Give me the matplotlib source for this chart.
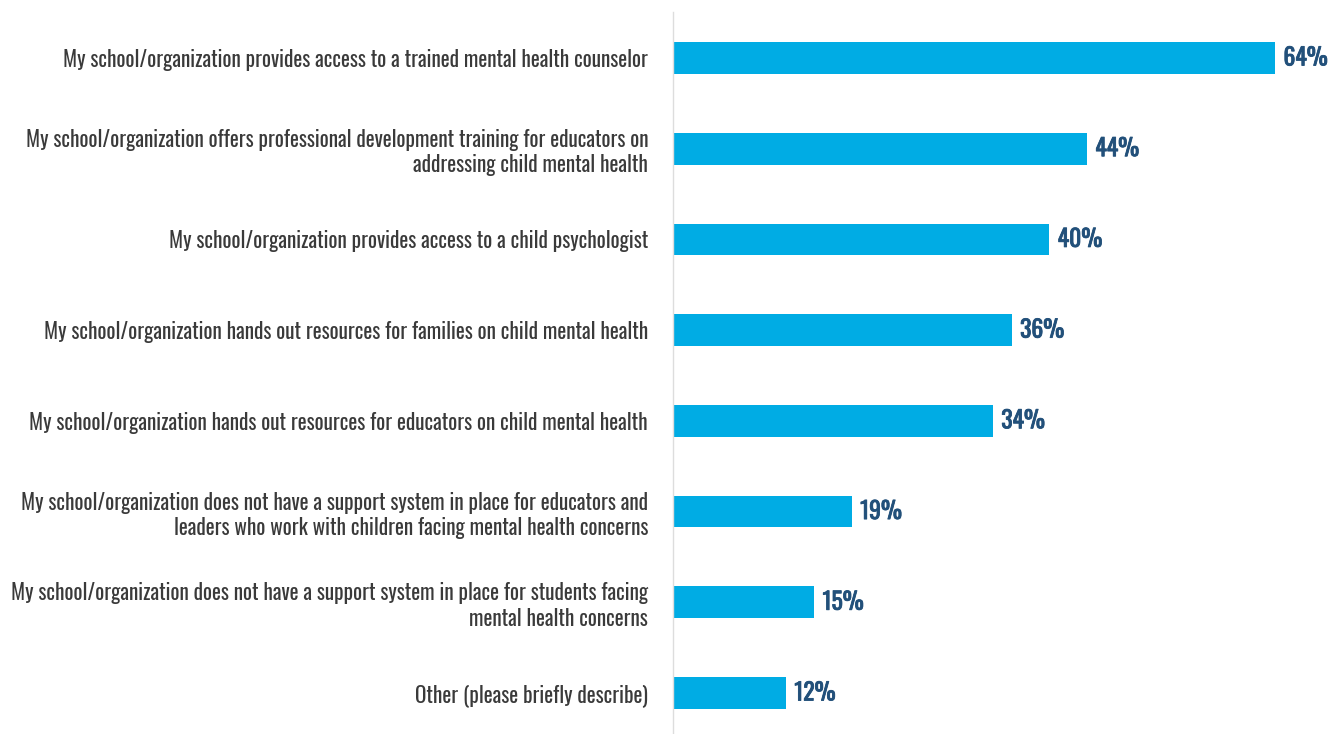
import matplotlib.pyplot as plt
import matplotlib.patheffects as pe
from matplotlib import font_manager

labels = [
    "My school/organization provides access to a trained mental health counselor",
    "My school/organization offers professional development training for educators on\naddressing child mental health",
    "My school/organization provides access to a child psychologist",
    "My school/organization hands out resources for families on child mental health",
    "My school/organization hands out resources for educators on child mental health",
    "My school/organization does not have a support system in place for educators and\nleaders who work with children facing mental health concerns",
    "My school/organization does not have a support system in place for students facing\nmental health concerns",
    "Other (please briefly describe)",
]
values = [64, 44, 40, 36, 34, 19, 15, 12]

names = set(f.name for f in font_manager.fontManager.ttflist)
fam = 'DejaVu Sans'
for cand in ['Oswald', 'Pathway Gothic One', 'Roboto Condensed', 'Archivo Narrow']:
    if cand in names:
        fam = cand
        break
plt.rcParams['font.family'] = [fam, 'DejaVu Sans']

fig = plt.figure(figsize=(13.32, 7.34), dpi=100)
ax = fig.add_axes([673 / 1332, 0, 1 - 673 / 1332, 1 - 12 / 734])

y = list(range(len(values)))
ax.barh(y, values, height=0.35, color='#00ACE4')
for i, v in enumerate(values):
    ax.text(v + 0.9, i, f"{v}%", va='center', ha='left', fontsize=17,
            fontweight='bold', color='#22507A',
            path_effects=[pe.withStroke(linewidth=0.6, foreground='#22507A')])

ax.set_xlim(0, 70.06)
ax.set_ylim(7.452, -0.507)
ax.set_yticks(y)
ax.set_yticklabels(labels, fontsize=15.3, color='#3a3a3a', linespacing=1.2,
                   fontweight='light')
ax.tick_params(axis='y', length=0, pad=18)
ax.set_xticks([])
for s in ['top', 'right', 'bottom']:
    ax.spines[s].set_visible(False)
ax.spines['left'].set_color('#dddddd')
ax.spines['left'].set_linewidth(1)

fig.savefig('out.png', dpi=100)
